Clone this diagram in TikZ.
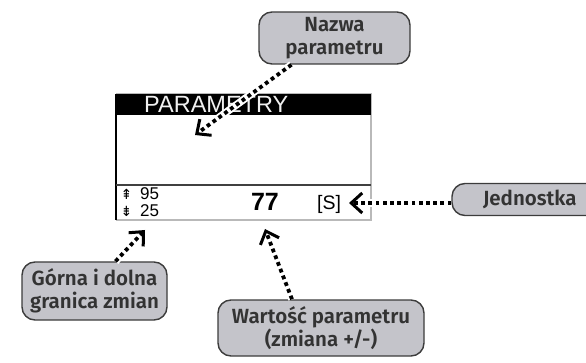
\documentclass[tikz,border=0pt]{standalone}
\usepackage{fontspec}
\setmainfont{Liberation Sans}
\newfontfamily\callfont{Fira Sans SemiBold}
\newfontfamily\symfont{DejaVu Sans}
\usetikzlibrary{arrows.meta,calc}
\definecolor{boxfill}{HTML}{C4C4CA}
\definecolor{boxline}{HTML}{3C3C3C}
\definecolor{boxtext}{HTML}{333333}
\tikzset{
  callout/.style={draw=boxline, line width=1.4pt, fill=boxfill, rounded corners=13pt,
    text=boxtext, font=\callfont\fontsize{20.5}{22.5}\selectfont, align=center, inner sep=0pt},
  halo/.style={white, line width=7.5pt, -{Straight Barb[length=12pt,width=22pt,line width=5.5pt]}},
  dotarrow/.style={black, line width=3.8pt, dash pattern=on 3.8pt off 3.4pt,
    -{Straight Barb[length=11pt,width=20pt,line width=3pt]}},
  scr/.style={inner sep=0pt, font=\fontsize{#1}{#1}\selectfont},
}
\begin{document}
\begin{tikzpicture}[x=1pt,y=-1pt]
\useasboundingbox (0,0) rectangle (586,363);
\clip (0,0) rectangle (586,363);
% screen
\fill[white] (116,94) rectangle (371,220);
\draw[gray!55, line width=1.2pt] (116,94) -- (371,94) -- (371,220) -- (116,220);
\fill[black] (116,94) rectangle (371,115.5);
\draw[black, line width=1.8pt] (116,94) -- (116,220);
\draw[black!75, line width=1.6pt] (116,185) -- (371,185);
\node[scr=23.5, text=gray!12, anchor=base west] (title) at (144,113) {PARAMETRY};
\node[scr=14, anchor=base] (up) at (126.5,200) {\symfont ⇞};
\node[scr=17, anchor=base west] (max) at (140,200) {95};
\node[scr=14, anchor=base] (dn) at (126.5,216.5) {\symfont ⇟};
\node[scr=17, anchor=base west] (min) at (140,216.5) {25};
\node[scr=25, font=\bfseries\fontsize{25}{25}\selectfont, anchor=base] (val) at (265,211) {77};
\node[scr=19.5, anchor=base] (unit) at (329,210) {[S]};
% callouts
\node[callout, minimum width=151pt, minimum height=52pt] (nazwa) at (334.5,38) {Nazwa\\parametru};
\node[callout, minimum width=145pt, minimum height=58pt] (gorna) at (94.5,291) {Górna i dolna\\granica zmian};
\node[callout, minimum width=206pt, minimum height=56pt] (wart) at (321,328) {Wartość parametru\\(zmiana +/-)};
\node[callout, minimum width=156pt, minimum height=32pt, text width=130pt, align=left] (jedn) at (530,199.5) {\hspace*{18pt}Jednostka};
% targets
\coordinate (t1) at (195,135);
\coordinate (t2) at (349,203);
\coordinate (t3) at (145,230);
\coordinate (t4) at (265,229);
\coordinate (s1) at ($(nazwa.south)+(-43,0)$);
\coordinate (s2) at ($(jedn.west)+(0,3.5)$);
\coordinate (s3) at ($(gorna.north)+(21,0)$);
\coordinate (s4) at ($(wart.north)+(-29,0)$);
% arrows
\draw[halo] (s1) -- (t1);
\draw[dotarrow] (s1) -- (t1);
\draw[halo] (s2) -- (t2);
\draw[dotarrow] (s2) -- (t2);
\draw[halo] (s3) -- (t3);
\draw[dotarrow] (s3) -- (t3);
\draw[halo] (s4) -- (t4);
\draw[dotarrow] (s4) -- (t4);
\end{tikzpicture}
\end{document}
